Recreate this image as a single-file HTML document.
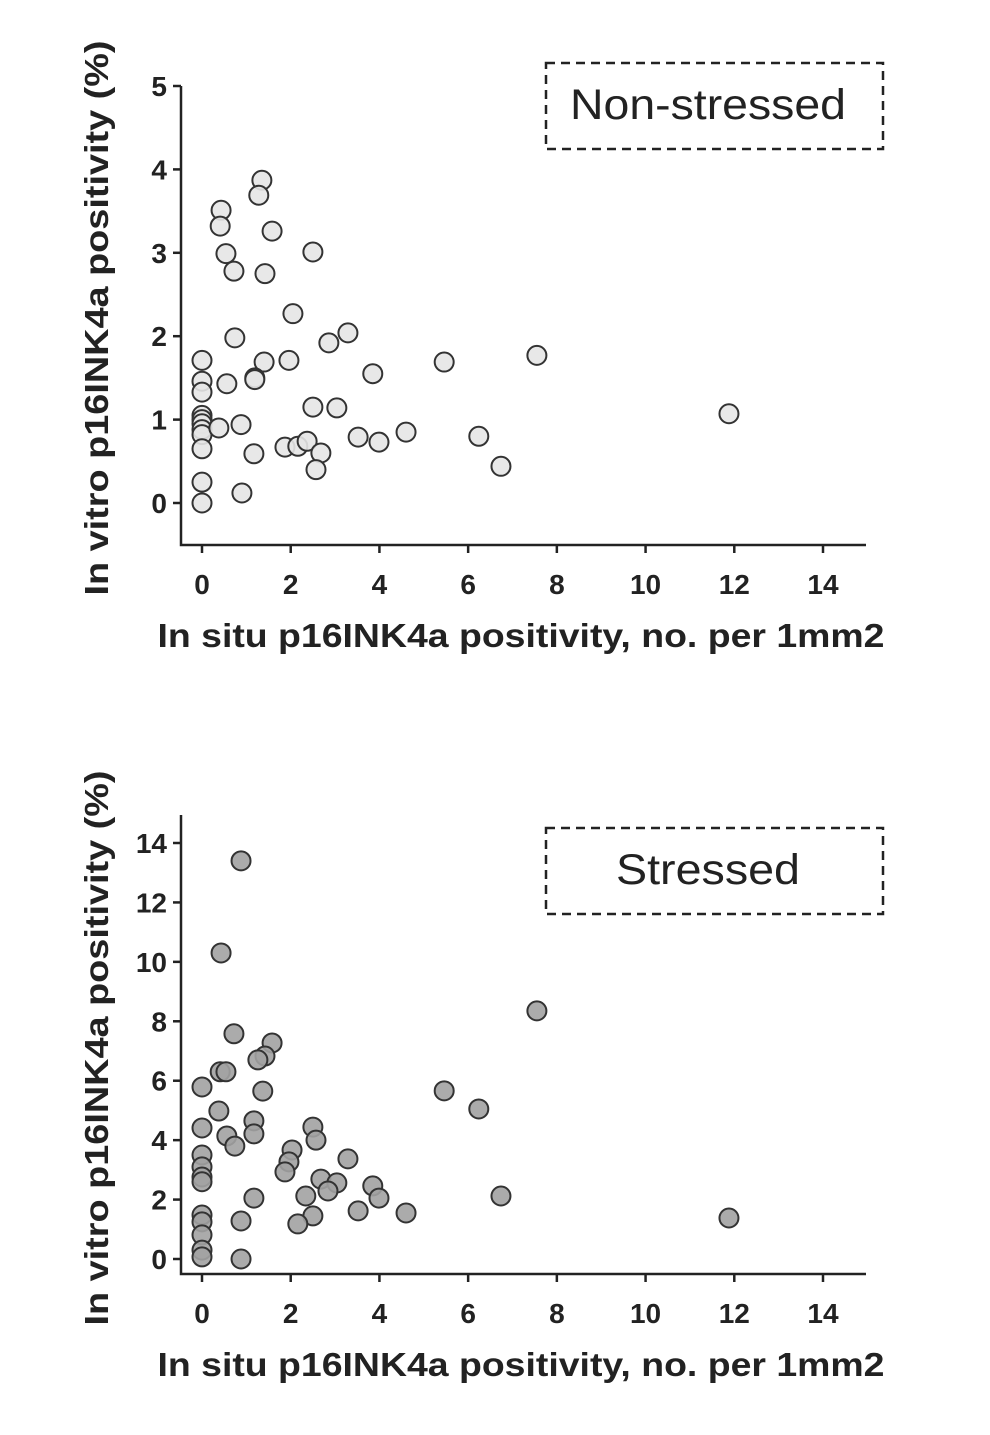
<!DOCTYPE html>
<html><head><meta charset="utf-8"><style>
body{margin:0;background:#fff}
svg{display:block}
text{font-family:"Liberation Sans",Arial,sans-serif;fill:#222}
</style></head><body>
<svg id="s" width="990" height="1435"></svg>
<script>
const topX=[1.35,1.28,0.43,0.41,1.58,0.54,2.50,0.72,1.42,2.05,0.74,3.29,2.86,0,1.40,1.96,5.46,7.55,11.88,3.85,0,0.56,1.19,1.19,0,2.50,3.04,0,0,0,0,0,0.38,0.88,0,1.17,1.87,2.16,2.37,2.68,2.57,3.52,3.99,4.60,6.24,6.74,0,0.9,0];
const topY=[3.87,3.69,3.51,3.32,3.26,2.99,3.01,2.78,2.75,2.27,1.98,2.04,1.92,1.71,1.69,1.71,1.69,1.77,1.07,1.55,1.46,1.43,1.50,1.48,1.33,1.15,1.14,1.05,1.0,0.95,0.88,0.82,0.90,0.94,0.65,0.59,0.67,0.68,0.74,0.60,0.40,0.79,0.73,0.85,0.80,0.44,0.25,0.12,0];
const botX=[0.88,0.43,0.72,1.58,1.42,1.26,0.41,0.54,0,1.37,5.46,6.24,7.55,0.38,0,0.56,0.74,1.17,1.17,2.5,2.57,2.03,1.96,1.87,3.29,0,0,0,0,2.68,3.04,2.84,3.85,3.99,2.34,1.17,3.52,4.6,2.5,2.16,6.74,11.88,0.88,0,0,0,0,0,0.88];
const botY=[13.4,10.3,7.58,7.27,6.83,6.7,6.3,6.3,5.79,5.65,5.66,5.05,8.35,4.98,4.41,4.14,3.8,4.65,4.21,4.44,4.0,3.67,3.27,2.93,3.37,3.5,3.1,2.76,2.6,2.69,2.56,2.29,2.46,2.05,2.12,2.05,1.62,1.55,1.45,1.18,2.12,1.38,1.28,1.48,1.25,0.81,0.3,0.07,0];
const xTicks=[0,2,4,6,8,10,12,14];
const topYTicks=[0,1,2,3,4,5];
const botYTicks=[0,2,4,6,8,10,12,14];
const NS="http://www.w3.org/2000/svg";
const svg=document.getElementById('s');
function el(t,a,p){const e=document.createElementNS(NS,t);for(const k in a)e.setAttribute(k,a[k]);(p||svg).appendChild(e);return e;}
function chart(o){
  const g=el('g',{});
  
  
  const sx=v=>202+v*(823-202)/14;
  const sy=v=>o.y0+(o.y1-o.y0)*(v-o.ymin)/(o.ymax-o.ymin);
  const ax=el('path',{d:`M181 ${o.axTop} V${o.axBot} H866`,stroke:'#222','stroke-width':2.5,fill:'none'},g);
  
  
  xTicks.forEach(t=>{
    el('line',{x1:sx(t),x2:sx(t),y1:o.axBot,y2:o.axBot+8,stroke:'#222','stroke-width':2.5},g);
    const tx=el('text',{x:sx(t),y:o.axBot+49,'text-anchor':'middle','font-size':28,'font-weight':'bold'},g);
    tx.textContent=t;
    
    
  });
  o.yt.forEach(t=>{
    el('line',{x1:173,x2:181,y1:sy(t),y2:sy(t),stroke:'#222','stroke-width':2.5},g);
    const tx=el('text',{x:167,y:sy(t)+10,'text-anchor':'end','font-size':28,'font-weight':'bold'},g);
    tx.textContent=t;
    
    
  });
  o.xs.forEach((v,i)=>{
    const c=el('circle',{cx:sx(v),cy:sy(o.ys[i]),r:9.5,fill:o.fill,stroke:'#333','stroke-width':2,'fill-opacity':0.9},g);
    
    
  });
  const xt=el('text',{x:521,y:o.axBot+102,'text-anchor':'middle','font-size':33,'font-weight':'bold',textLength:727,lengthAdjust:'spacingAndGlyphs'},g);
  xt.textContent='In situ p16INK4a positivity, no. per 1mm2';
  
  
  const yt=el('text',{x:0,y:0,'text-anchor':'middle','font-size':33,'font-weight':'bold',textLength:555,lengthAdjust:'spacingAndGlyphs',transform:`translate(108 ${o.ytc}) rotate(-90)`},g);
  yt.textContent='In vitro p16INK4a positivity (%)';
  
  
  const b=el('rect',{x:546,y:o.boxY,width:337,height:86,fill:'none',stroke:'#222','stroke-width':2.5,'stroke-dasharray':'9 6'},g);
  
  
  const bt=el('text',{x:708,y:o.boxY+56,'text-anchor':'middle','font-size':43,textLength:o.lw,lengthAdjust:'spacingAndGlyphs'},g);
  bt.textContent=o.label;
  
  
}
chart({name:'non-stressed-chart',xs:topX,ys:topY,ymin:0,ymax:5,y0:503,y1:86,axTop:86,axBot:545,yt:topYTicks,fill:'#e6e6e6',boxY:63,label:'Non-stressed',ytc:318,lw:276});
chart({name:'stressed-chart',xs:botX,ys:botY,ymin:0,ymax:14,y0:1259,y1:843,axTop:815,axBot:1274,yt:botYTicks,fill:'#a2a2a2',boxY:828,label:'Stressed',ytc:1048,lw:184});
</script>
</body></html>
